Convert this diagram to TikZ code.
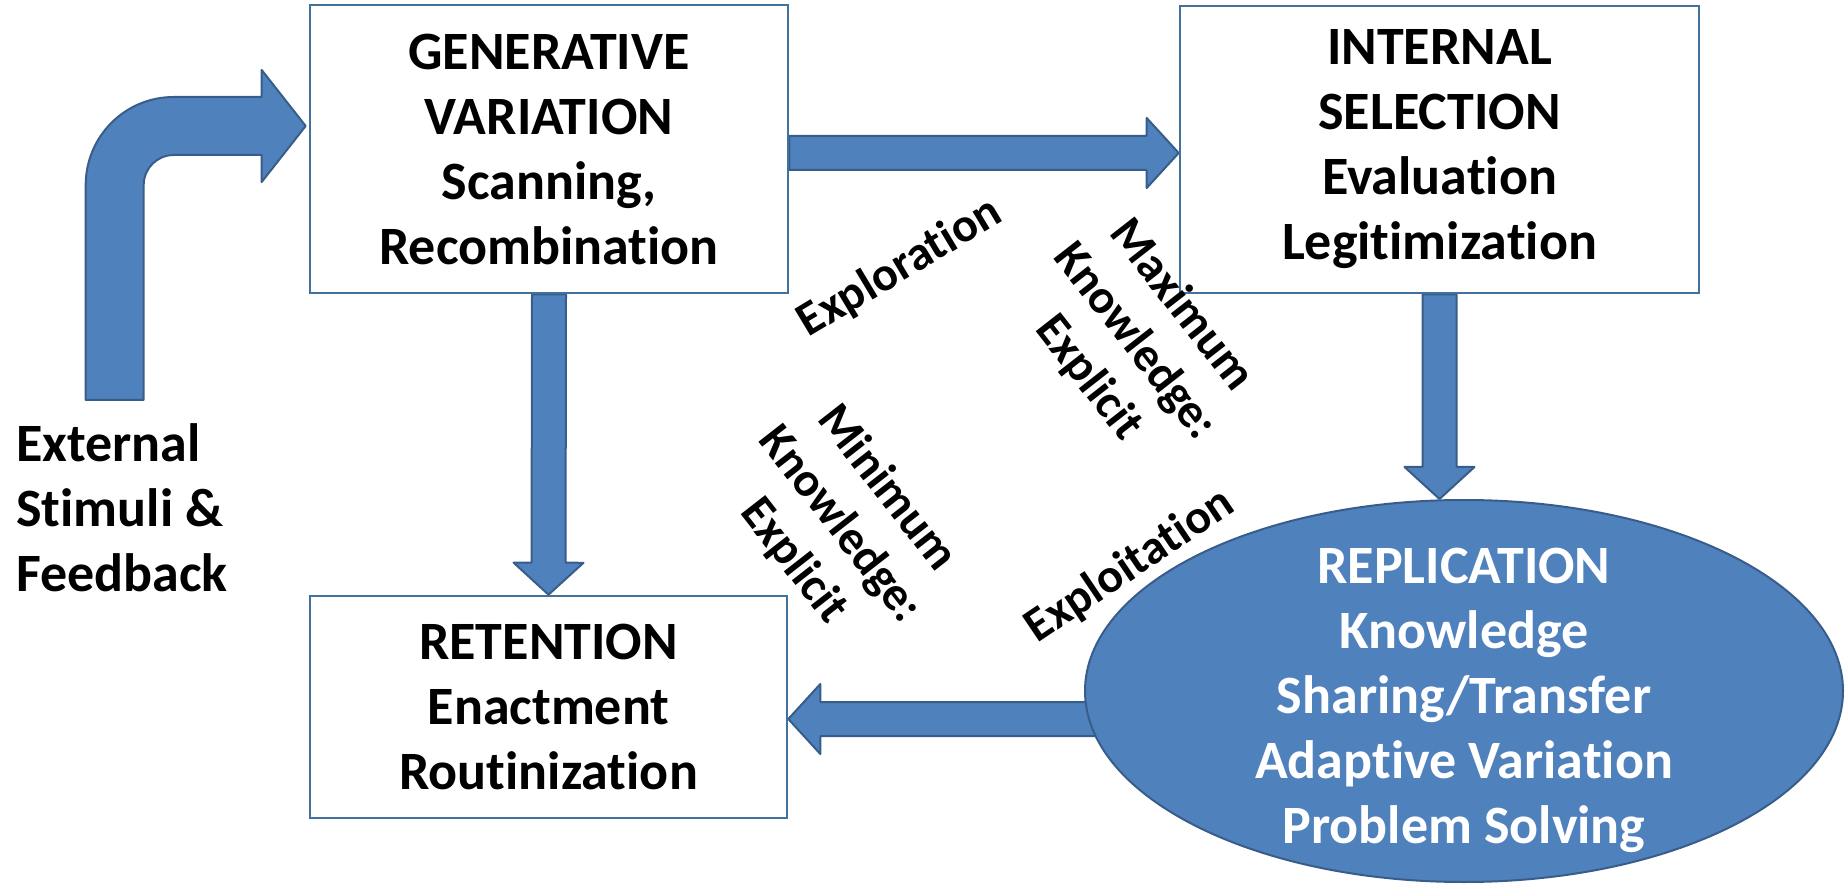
\documentclass[tikz,border=0pt]{standalone}
\usepackage{fontspec}
\setmainfont{Carlito}[Ligatures={NoCommon}]
\usetikzlibrary{calc,shapes.geometric}
\definecolor{ofblue}{HTML}{4F81BD}
\definecolor{ofdark}{HTML}{385D8A}
\definecolor{boxline}{HTML}{41719C}
\pgfdeclarelayer{bg}
\pgfsetlayers{bg,main}
\tikzset{
  bigtext/.style={font=\bfseries\fontsize{27}{32.5}\selectfont},
  lbltext/.style={font=\bfseries\fontsize{24}{29.5}\selectfont, inner sep=0pt, align=center},
  procbox/.style={bigtext, draw=boxline, line width=1.3pt, fill=white, inner sep=0pt, align=center},
  replell/.style={ellipse, draw=ofdark, line width=1pt, fill=ofblue, inner sep=0pt},
  barrow/.style={fill=ofblue, draw=ofdark, line width=1pt, line join=round},
}
\newcommand\blockarrow[2]{%
  \coordinate (baA) at (#1);
  \coordinate (baB) at (#2);
  \coordinate (baH) at ($(baB)!16pt!(baA)$);
  \draw[barrow] ($(baA)!8.5pt!90:(baB)$) -- ($(baH)!8.5pt!-90:(baA)$) -- ($(baH)!17.5pt!-90:(baA)$) -- (baB)
     -- ($(baH)!17.5pt!90:(baA)$) -- ($(baH)!8.5pt!90:(baA)$) -- ($(baA)!8.5pt!-90:(baB)$) -- cycle;
}
\begin{document}
\begin{tikzpicture}[x=0.5pt, y=-0.5pt]
\useasboundingbox (0,0) rectangle (1847,887);

% boxes
\node[procbox, minimum width=239pt, minimum height=144pt] (GV) at (549,149)
  {GENERATIVE\\VARIATION\\Scanning,\\Recombination};
\node[procbox, minimum width=259.5pt, minimum height=143.5pt] (IS) at (1439.5,149.5)
  {INTERNAL\\SELECTION\\Evaluation\\Legitimization};
\node[procbox, minimum width=238.5pt, minimum height=111pt] (RET) at (548.5,707)
  {RETENTION\\Enactment\\Routinization};
\node[replell, minimum width=379pt, minimum height=191pt] (ell) at (1464,691) {};
\node[bigtext, text=white, align=center, inner sep=0pt] (ellT) at (1464,700)
  {REPLICATION\\Knowledge\\Sharing/Transfer\\Adaptive Variation\\Problem Solving};

% external input
\node[bigtext, align=left, inner sep=0pt, anchor=west] (ext) at (16,508)
  {External\\Stimuli \&\\Feedback};

% bent arrow
\coordinate (tip) at ($(GV.west)+(-3,-23)$);
\begin{scope}[shift={(tip)}]
\draw[barrow] (-220,274) -- (-220,59) .. controls (-220,10.4) and (-180.6,-29) .. (-132,-29)
  -- (-44,-29) -- (-44,-56) -- (0,0) -- (-44,56) -- (-44,29) -- (-132,29)
  .. controls (-148.6,29) and (-162,42.4) .. (-162,59) -- (-162,274) -- cycle;
\end{scope}

% connectors
\begin{pgfonlayer}{bg}
\blockarrow{$(GV.east)+(0,4)$}{$(IS.west)+(0,3.5)$}
\blockarrow{GV.south}{RET.north}
\blockarrow{IS.south}{IS.south |- ell.north}
\coordinate (ellin) at ($(ell.west)+(20,28)$);
\coordinate (retin) at ($(RET.east)+(0,12)$);
\blockarrow{ellin}{retin}
\end{pgfonlayer}

% labels
\node[lbltext, rotate=31] (explor) at (900,268) {Exploration};
\node[lbltext, rotate=-52] (maxk) at (1135,342) {Maximum\\Knowledge:\\Explicit};
\node[lbltext, rotate=-52] (mink) at (840,525) {Minimum\\Knowledge:\\Explicit};
\node[lbltext, rotate=34] (exploit) at (1130,566) {Exploitation};
\end{tikzpicture}
\end{document}
